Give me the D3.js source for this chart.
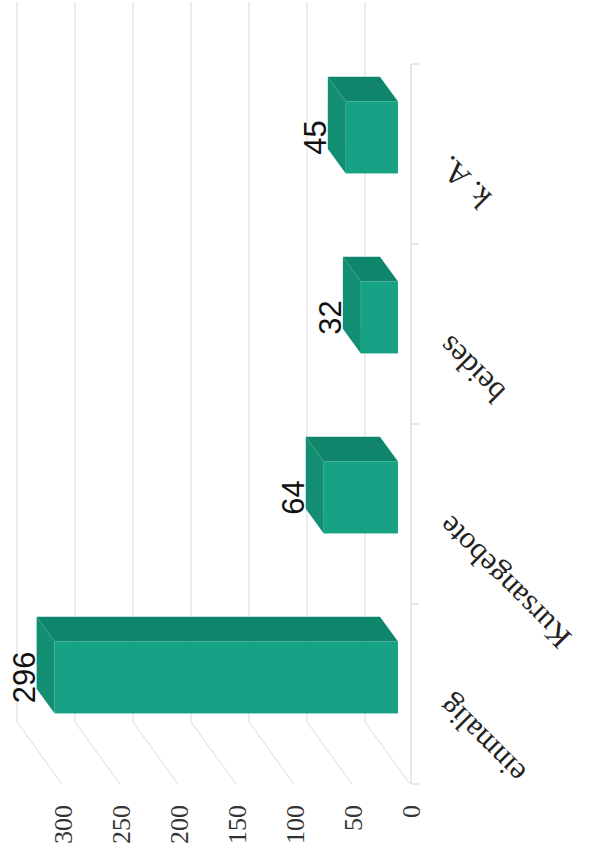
<!DOCTYPE html>
<html>
<head>
<meta charset="utf-8">
<script src="https://cdn.jsdelivr.net/npm/d3@7"></script>
<style>
  body { margin: 0; background: #fff; }
  svg { display: block; }
</style>
</head>
<body>
<script>
const categories = ["einmalig", "Kursangebote", "beides", "k. A."];
const values = [296, 64, 32, 45];
const tickValues = [0, 50, 100, 150, 200, 250, 300];

const width = 596, height = 865;

const svg = d3.select("body").append("svg")
    .attr("width", width)
    .attr("height", height);

// value scale on the front plane (chart is turned, so 0 is on the right)
const xScale = d3.scaleLinear()
    .domain([0, 300])
    .range([410, 62]);

// categories run bottom -> top
const yScale = d3.scaleBand()
    .domain(categories)
    .range([784, 64]);

// depth: back wall is up-left of the front plane
const depthX = -45, depthY = -62;
const off = f => [(1 - f) * depthX, (1 - f) * depthY]; // f = 1 front, 0 back
const barFront = 0.733, barBack = 0.333;
const barThick = yScale.bandwidth() * 0.4;

const grid = "#d2d2d2";

// back wall grid lines
svg.append("g")
    .selectAll("line")
    .data(tickValues)
    .join("line")
    .attr("x1", d => xScale(d) + depthX)
    .attr("x2", d => xScale(d) + depthX)
    .attr("y1", 64 + depthY)
    .attr("y2", 784 + depthY)
    .attr("stroke", grid)
    .attr("stroke-width", 0.8);

// side wall (bottom) diagonals
svg.append("g")
    .selectAll("line")
    .data(tickValues)
    .join("line")
    .attr("x1", d => xScale(d) + depthX)
    .attr("y1", 784 + depthY)
    .attr("x2", d => xScale(d))
    .attr("y2", 784)
    .attr("stroke", grid)
    .attr("stroke-width", 0.8);

// category axis line + ticks at band edges
const axisX = xScale(0) + 1;
svg.append("line")
    .attr("x1", axisX).attr("x2", axisX)
    .attr("y1", 64).attr("y2", 784)
    .attr("stroke", "#c4c4c4")
    .attr("stroke-width", 0.8);

const edges = categories.map(c => yScale(c)).concat([784]);
svg.append("g")
    .selectAll("line")
    .data(edges)
    .join("line")
    .attr("x1", axisX).attr("x2", axisX + 8)
    .attr("y1", d => d).attr("y2", d => d)
    .attr("stroke", "#c4c4c4")
    .attr("stroke-width", 0.8);

// bars
const bars = svg.append("g");
categories.forEach((c, i) => {
    const v = values[i];
    const cy = yScale(c) + yScale.bandwidth() / 2;
    const [fx, fy] = off(barFront);
    const [bx, by] = off(barBack);
    const xl = xScale(v), xr = xScale(0);
    const yt = cy - barThick / 2, yb = cy + barThick / 2;

    // upper side
    bars.append("polygon")
        .attr("points", [[xl + fx, yt + fy], [xr + fx, yt + fy], [xr + bx, yt + by], [xl + bx, yt + by]].join(" "))
        .attr("fill", "#0f866c");
    // end (value) face
    bars.append("polygon")
        .attr("points", [[xl + fx, yt + fy], [xl + fx, yb + fy], [xl + bx, yb + by], [xl + bx, yt + by]].join(" "))
        .attr("fill", "#128f73");
    // front face
    bars.append("rect")
        .attr("x", xl + fx)
        .attr("y", yt + fy)
        .attr("width", xr - xl)
        .attr("height", barThick)
        .attr("fill", "#17a285");

    // value label
    bars.append("text")
        .attr("transform", `translate(${xl + bx - 2},${cy + fy}) rotate(-90)`)
        .attr("text-anchor", "middle")
        .style("font-family", "'Liberation Sans', Arial, sans-serif")
        .style("font-size", "31px")
        .style("fill", "#111")
        .text(v);
});

// value axis labels (turned)
const valueAxis = svg.append("g")
    .attr("transform", "translate(0,784)")
    .attr("font-family", "'Liberation Serif', 'Times New Roman', serif")
    .attr("font-size", 26)
    .call(d3.axisBottom(xScale).tickValues(tickValues).tickSize(0));

valueAxis.select(".domain").remove();
valueAxis.attr("font-family", "'Liberation Serif', 'Times New Roman', serif")
    .attr("font-size", 26);

valueAxis.selectAll("text")
    .attr("transform", "rotate(-90)")
    .attr("x", -21)
    .attr("y", 0)
    .attr("dy", "0.35em")
    .attr("text-anchor", "end")
    .style("font-family", "'Liberation Serif', 'Times New Roman', serif")
    .style("font-size", "26px")
    .style("fill", "#333");

// category labels, upside down along the diagonal
svg.append("g")
    .selectAll("text")
    .data(categories)
    .join("text")
    .attr("transform", d => `translate(${axisX + 40},${yScale(d) + yScale.bandwidth() / 2}) rotate(-135)`)
    .attr("text-anchor", "end")
    .style("font-family", "'Liberation Serif', 'Times New Roman', serif")
    .style("font-size", "31px")
    .style("fill", "#222")
    .text(d => d);
</script>
</body>
</html>
